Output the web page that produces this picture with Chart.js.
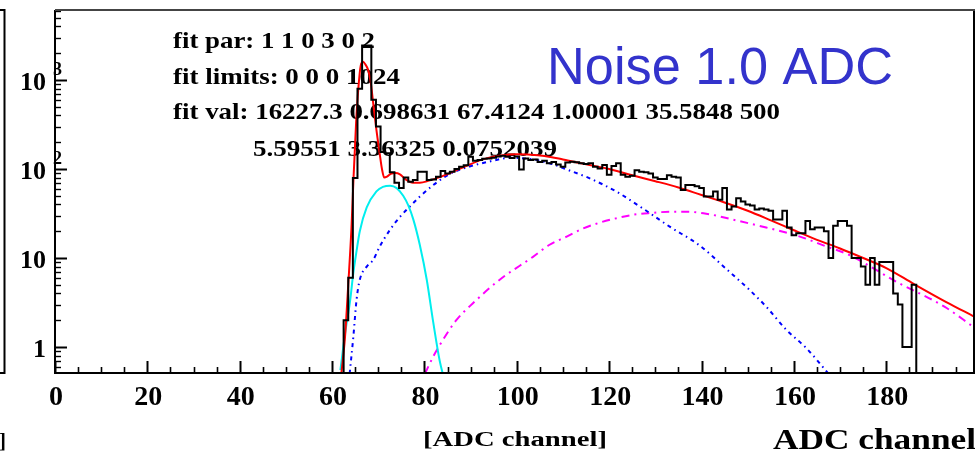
<!DOCTYPE html>
<html>
<head>
<meta charset="utf-8">
<script src="https://cdn.jsdelivr.net/npm/chart.js@4.4.1/dist/chart.umd.min.js"></script>
<style>
  html, body { margin: 0; padding: 0; background: #ffffff; overflow: hidden; }
  canvas { display: block; }
</style>
</head>
<body>
<canvas id="c" width="975" height="451"></canvas>
<script>
// ---------------- data ----------------
const histBins = [63,64,65,66,67,68,69,70,71,72,73,74,75,76,77,78,79,80,81,82,83,84,85,86,87,88,89,90,
  91,92,93,94,95,96,97,98,99,100,101,102,103,104,105,106,107,108,109,110,111,112,113,114,115,116,117,118,119,120,
  121,122,123,124,125,126,127,128,129,130,131,132,133,134,135,136,137,138,139,140,141,142,143,144,145,146,147,148,149,150,
  151,152,153,154,155,156,157,158,159,160,161,162,163,164,165,166,167,168,169,170,171,172,173,174,175,176,177,178,179,180,
  181,182,183,184,185,186];
const histCounts = [2,6,79,800,2450,2450,600,300,155,150,92,70,61,80,72,75,93,93,75,76,82,95,89,93,100,106,110,137,
  124,126,130,131,134,138,141,137,133,138,99,131,126,128,120,124,116,120,112,106,118,121,119,116,114,116,106,101,111,86,
  108,116,86,82,84,97,93,92,89,80,77,77,85,82,80,58,66,66,64,61,49,49,56,45,61,35,38,47,43,40,
  39,35,36,35,34,27,27,34,22,18,19,19,26,21,22,22,20,10,23,26,26,23,10,10,8,5,10,5,9,9,
  9,4,3,1,1,5];

const redX = [62.0,62.8,63.5,64.2,64.6,65.2,65.7,66.2,66.7,67.2,67.8,68.3,68.9,69.6,70.3,70.8,71.3,71.9,72.7,73.7,74.7,76.0,77.5,79.0,81.0,83.0,85.5,89.0,93.0,97.0,100.0,103.0,106.0,110.0,115.0,120.0,125.0,130.0,135.0,140.0,145.0,150.0,155.0,160.0,165.0,170.0,175.0,180.0,186.0,193.0,199.0];
const redY = [0.5,1.3,5,22,70,330,820,1450,1600,1500,1300,1000,550,275,150,100,80,82,88,90,87,76,70,70,74,80,90,108,130,143,146,145,140,128,113,100,85,73,62,51,42,34,26.5,20.5,16,12.8,10,7.7,5.1,3.2,2.2];

const cyanX = [61.8,62.8,63.9,64.6,65.3,66.0,67.5,69.6,71.0,72.6,74.0,75.4,76.5,77.6,79.0,80.5,81.9,83.3,84.2];
const cyanY = [0.55,1.4,3.3,6.8,12,20,37,56,63,65,61,50,39,27,14,5.7,1.9,0.7,0.45];

const blueX = [63.8,64.6,65.3,66.0,67.5,68.9,70.3,72.5,74.7,76.8,79.0,81.9,85.5,89.1,94.9,98.5,103.5,107.1,111.0,115.8,121.6,127.3,133.1,139.6,145.4,150.4,154.0,158.4,162.7,167.5];
const blueY = [0.5,1.3,3.4,5.7,8,9.5,13.4,20.6,29,37.7,49,66,88,104,124,134,128,116,98,78.5,55.6,36,22.5,13.8,7.5,4.37,2.84,1.55,0.97,0.5];

const magX = [80.1,81.9,84.0,86.9,90.5,96.3,103.5,107.0,110.8,114.4,118.0,121.6,125.2,128.8,133.0,137.0,141.0,146.8,154.0,161.3,167.0,172.0,182.5,192.6,198.8];
const magY = [0.5,0.78,1.2,2.0,3.1,5.7,10.3,14,17.4,21.5,25,28,30.6,32,33,33,31.5,27,22,17.4,13.5,10.8,5.3,2.84,1.69];

const xTickValues = [0,20,40,60,80,100,120,140,160,180];
const xTickLabels = ['0','20','40','60','80','100','120','140','160','180'];
const yTickValues = [1,10,100,1000];
const yTickBase   = ['1','10','10','10'];
const yTickExp    = ['','','2','3'];

const fitLines = [
  'fit par: 1 1 0 3 0 2',
  'fit limits: 0 0 0 1024',
  'fit val: 16227.3 0.698631 67.4124 1.00001 35.5848 500',
  '5.59551 3.36325 0.0752039'
];
const noiseLabel = 'Noise 1.0 ADC';
const xTitleSmall = '[ADC channel]';
const xTitle = 'ADC channel';

// ---------------- build datasets ----------------
const Y_MIN = 0.51, Y_MAX = 6120, X_MIN = 0, X_MAX = 199;

function histPoints() {
  const pts = [{x: histBins[0] - 0.5, y: Y_MIN * 0.5}];
  for (let i = 0; i < histBins.length; i++) {
    pts.push({x: histBins[i] - 0.5, y: histCounts[i]});
    pts.push({x: histBins[i] + 0.5, y: histCounts[i]});
  }
  pts.push({x: histBins[histBins.length - 1] + 0.5, y: Y_MIN * 0.5});
  return pts;
}
function zipXY(xs, ys) { return xs.map((x, i) => ({x: x, y: ys[i]})); }

const serif = '"Liberation Serif", "DejaVu Serif", serif';

function drawText(ctx, text, x, baseline, font, color, targetW, align) {
  ctx.save();
  ctx.font = font;
  ctx.fillStyle = color;
  ctx.textBaseline = 'alphabetic';
  ctx.textAlign = 'left';
  const w = ctx.measureText(text).width;
  const sx = targetW ? targetW / w : 1;
  let x0 = x;
  if (align === 'right') x0 = x - w * sx;
  if (align === 'center') x0 = x - w * sx / 2;
  ctx.translate(x0, baseline);
  ctx.scale(sx, 1);
  ctx.fillText(text, 0, 0);
  ctx.restore();
}

const rootDecor = {
  id: 'rootDecor',
  beforeDatasetsDraw(chart) {
    const ctx = chart.ctx;
    const f = 'bold 23px ' + serif;
    drawText(ctx, fitLines[0], 173, 48, f, '#000', 202);
    drawText(ctx, fitLines[1], 173, 84, f, '#000', 227);
    drawText(ctx, fitLines[2], 173, 119, f, '#000', 607);
    drawText(ctx, fitLines[3], 253, 156, f, '#000', 304);
    drawText(ctx, noiseLabel, 547, 84, '51px "Liberation Sans", Arial, sans-serif', '#3333cc', 346);
  },
  afterDatasetsDraw(chart) {
    const ctx = chart.ctx;
    const a = chart.chartArea;
    const xs = chart.scales.x, ys = chart.scales.y;
    ctx.save();
    ctx.strokeStyle = '#000';
    ctx.lineCap = 'butt';
    // x ticks (inward)
    for (let v = 0; v <= X_MAX; v += 5) {
      const px = Math.round(xs.getPixelForValue(v)) + 0.5;
      const major = v % 20 === 0;
      ctx.lineWidth = major ? 2 : 1.6;
      ctx.beginPath();
      ctx.moveTo(px, a.bottom);
      ctx.lineTo(px, a.bottom - (major ? 12 : 6));
      ctx.stroke();
    }
    // y ticks (inward)
    for (let e = -1; e <= 3; e++) {
      for (let m = 1; m <= 9; m++) {
        const v = m * Math.pow(10, e);
        if (v < Y_MIN || v > Y_MAX) continue;
        const py = Math.round(ys.getPixelForValue(v)) + 0.5;
        const major = m === 1;
        ctx.lineWidth = major ? 2 : 1.4;
        ctx.beginPath();
        ctx.moveTo(a.left, py);
        ctx.lineTo(a.left + (major ? 12 : 6), py);
        ctx.stroke();
      }
    }
    // frame
    ctx.lineWidth = 2;
    ctx.strokeStyle = '#000';
    ctx.beginPath();
    ctx.moveTo(a.left, a.top);
    ctx.lineTo(a.left, a.bottom);
    ctx.lineTo(975, a.bottom);
    ctx.stroke();
    ctx.beginPath();
    ctx.moveTo(a.right, a.top);
    ctx.lineTo(a.right, a.bottom);
    ctx.stroke();
    ctx.strokeStyle = '#444';
    ctx.beginPath();
    ctx.moveTo(a.left, a.top);
    ctx.lineTo(975, a.top);
    ctx.stroke();
    // neighbouring panel edge on the far left
    ctx.strokeStyle = '#000';
    ctx.beginPath();
    ctx.moveTo(0, a.top);
    ctx.lineTo(4.5, a.top);
    ctx.lineTo(4.5, a.bottom);
    ctx.lineTo(0, a.bottom);
    ctx.stroke();
    ctx.restore();

    // x tick labels
    const fx = 'bold 28px ' + serif;
    xTickValues.forEach((v, i) => {
      drawText(ctx, xTickLabels[i], xs.getPixelForValue(v) + 1, 405, fx, '#000', null, 'center');
    });
    // y tick labels
    const fy = 'bold 26px ' + serif;
    const fe = 'bold 18px ' + serif;
    yTickValues.forEach((v, i) => {
      const py = ys.getPixelForValue(v);
      drawText(ctx, yTickBase[i], 46, py + 10, fy, '#000', null, 'right');
      if (yTickExp[i]) drawText(ctx, yTickExp[i], 53, py - 5, fe, '#000', null, 'left');
    });
    // axis titles
    drawText(ctx, xTitleSmall, 423, 446, 'bold 20px ' + serif, '#000', 184);
    drawText(ctx, xTitle, 773, 449, 'bold 30px ' + serif, '#000', 203);
    drawText(ctx, ']', 6, 448, 'bold 20px ' + serif, '#000', null, 'right');
  }
};

new Chart(document.getElementById('c'), {
  type: 'scatter',
  data: {
    datasets: [
      {
        label: 'histogram',
        data: histPoints(),
        showLine: true,
        borderColor: '#000000',
        borderWidth: 2,
        pointRadius: 0,
        tension: 0,
        fill: false
      },
      {
        label: 'total fit',
        data: zipXY(redX, redY),
        showLine: true,
        borderColor: '#ff0000',
        borderWidth: 2,
        pointRadius: 0,
        cubicInterpolationMode: 'monotone',
        fill: false
      },
      {
        label: 'noise',
        data: zipXY(cyanX, cyanY),
        showLine: true,
        borderColor: '#00eeee',
        borderWidth: 2,
        pointRadius: 0,
        cubicInterpolationMode: 'monotone',
        fill: false
      },
      {
        label: 'signal 1',
        data: zipXY(blueX, blueY),
        showLine: true,
        borderColor: '#0000ff',
        borderWidth: 2,
        borderDash: [4, 4, 1.5, 4],
        pointRadius: 0,
        cubicInterpolationMode: 'monotone',
        fill: false
      },
      {
        label: 'signal 2',
        data: zipXY(magX, magY),
        showLine: true,
        borderColor: '#ff00ff',
        borderWidth: 2,
        borderDash: [8, 5, 2, 5],
        pointRadius: 0,
        cubicInterpolationMode: 'monotone',
        fill: false
      }
    ]
  },
  options: {
    responsive: false,
    animation: false,
    devicePixelRatio: 1,
    layout: { padding: { left: 55, top: 10, right: 1, bottom: 78 } },
    plugins: { legend: { display: false }, tooltip: { enabled: false } },
    scales: {
      x: { type: 'linear', min: X_MIN, max: X_MAX, bounds: 'data', display: false },
      y: { type: 'logarithmic', min: Y_MIN, max: Y_MAX, bounds: 'data', display: false }
    }
  },
  plugins: [rootDecor]
});
</script>
</body>
</html>
